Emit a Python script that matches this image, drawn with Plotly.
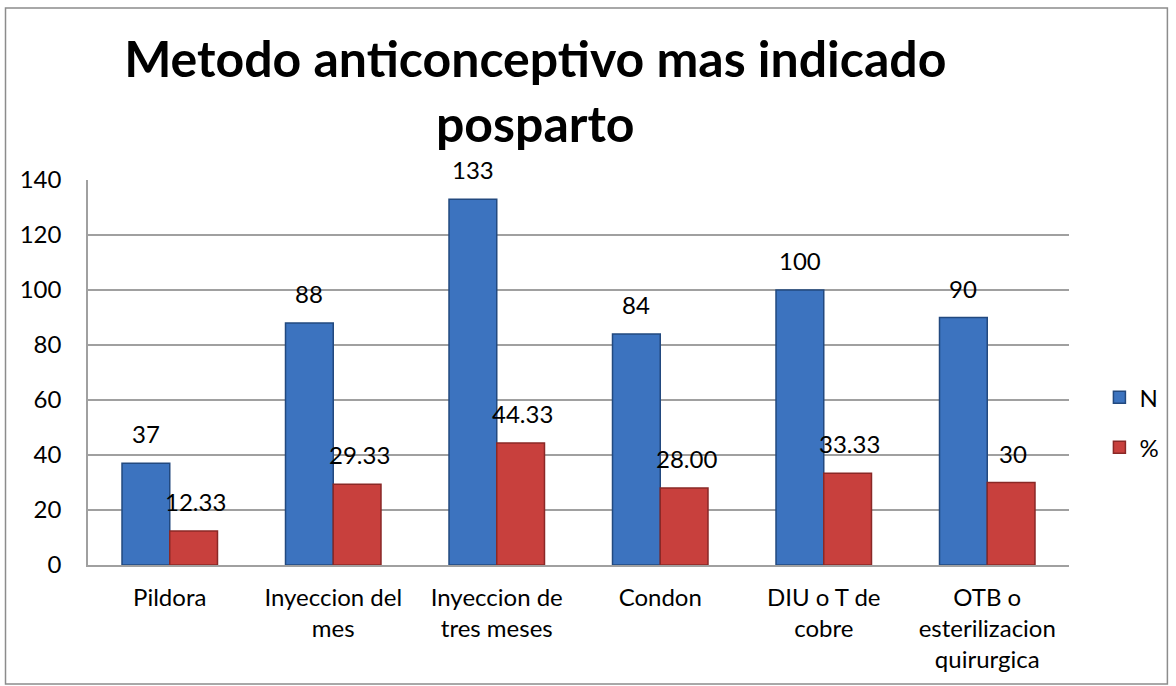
import plotly.graph_objects as go

categories = ["Pildora", "Inyeccion del<br>mes", "Inyeccion de<br>tres meses", "Condon",
              "DIU o T de<br>cobre", "OTB o<br>esterilizacion<br>quirurgica"]
n_values = [37, 88, 133, 84, 100, 90]
pct_values = [12.33, 29.33, 44.33, 28.00, 33.33, 30]
n_labels = ["37", "88", "133", "84", "100", "90"]
pct_labels = ["12.33", "29.33", "44.33", "28.00", "33.33", "30"]
y_ticks = [0, 20, 40, 60, 80, 100, 120, 140]

FONT = "Lato, Calibri, Carlito, sans-serif"

fig = go.Figure()
fig.add_trace(go.Bar(
    name="N", x=categories, y=n_values,
    marker=dict(color="#3C73BF", line=dict(color="#22497F", width=1.5)),
    legendgroup="a",
))
fig.add_trace(go.Bar(
    name="%", x=categories, y=pct_values,
    marker=dict(color="#C8403D", line=dict(color="#8A2826", width=1.5)),
    legendgroup="b",
))

annotations = []
for c, v, t in zip(categories, n_values, n_labels):
    annotations.append(dict(x=c, y=v, text=t, xshift=-24, yshift=13, yanchor="bottom",
                            showarrow=False, font=dict(size=24, color="#000", family=FONT)))
for c, v, t in zip(categories, pct_values, pct_labels):
    annotations.append(dict(x=c, y=v, text=t, xshift=26, yshift=13, yanchor="bottom",
                            showarrow=False, font=dict(size=24, color="#000", family=FONT)))

# chart frame
L, R, T, B = 88, 1075, 180, 565
pw, ph = R - L, B - T
shapes = [dict(type="rect", xref="paper", yref="paper",
               x0=(5 - L) / pw, x1=(1174 - L) / pw,
               y0=(B - 684) / ph, y1=(B - 8) / ph,
               line=dict(color="#8C8C8C", width=1.5), fillcolor="rgba(0,0,0,0)", layer="below")]

fig.update_layout(
    width=1176, height=686,
    margin=dict(l=L, r=1176 - R, t=T, b=686 - B),
    paper_bgcolor="white", plot_bgcolor="white",
    barmode="group", bargap=0.416, bargroupgap=0,
    title=dict(text="<b>Metodo anticonceptivo mas indicado<br>posparto</b>",
               x=(538 - L) / pw, xref="paper", xanchor="center", y=1 - 77 / 686,
               yanchor="middle", yref="container",
               font=dict(size=50, color="#000", family=FONT)),
    font=dict(family=FONT, size=24, color="#000"),
    legend=dict(x=1.031, y=0.37, xanchor="left", yanchor="middle",
                font=dict(size=24, family=FONT), tracegroupgap=16, traceorder="grouped",
                bgcolor="rgba(0,0,0,0)"),
    annotations=annotations,
    shapes=shapes,
)
fig.update_yaxes(range=[0, 140], tickvals=y_ticks, showgrid=True, gridcolor="#A0A0A0",
                 gridwidth=1.5, showline=True, linecolor="#A0A0A0", linewidth=1.5,
                 ticks="", zeroline=False, tickfont=dict(size=24, family=FONT),
                 ticklabelstandoff=20)
fig.update_xaxes(showline=True, linecolor="#A0A0A0", linewidth=1.5, ticks="",
                 tickfont=dict(size=24, family=FONT), tickangle=0, ticklabelstandoff=10)

fig.write_html("out.html", config={"displayModeBar": False},
               post_script="document.body.style.margin='0';")
